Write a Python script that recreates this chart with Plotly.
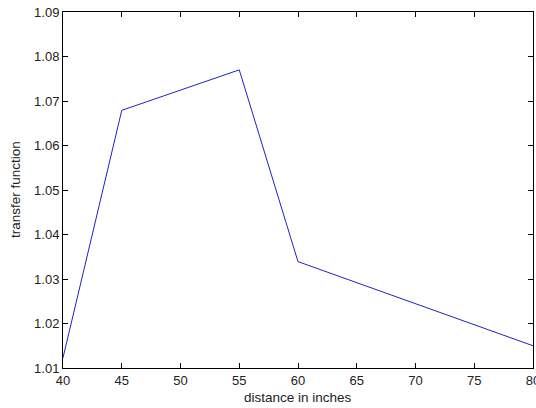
import plotly.graph_objects as go

distance = [40, 45, 55, 60, 80]
transfer = [1.0123, 1.0679, 1.0770, 1.0339, 1.0150]
x_ticks = [40, 45, 50, 55, 60, 65, 70, 75, 80]
y_ticks = [1.01, 1.02, 1.03, 1.04, 1.05, 1.06, 1.07, 1.08, 1.09]
x_title = "distance in inches"
y_title = "transfer function"

FONT = "Liberation Sans, Arial"

fig = go.Figure()
fig.add_trace(go.Scatter(x=distance, y=transfer, mode="lines",
                         line=dict(color="#2020c8", width=1)))

axis_common = dict(showgrid=False, zeroline=False, showline=True, linecolor="black",
                   linewidth=1, mirror="ticks", ticks="inside", ticklen=5, automargin=False,
                   tickcolor="black", tickfont=dict(family=FONT, size=13, color="#222"))

fig.update_layout(
    width=536, height=408,
    margin=dict(l=63, r=3, t=12, b=40),
    paper_bgcolor="white", plot_bgcolor="white",
    showlegend=False,
    xaxis=dict(range=[40, 80], tickvals=x_ticks, ticktext=[str(v) for v in x_ticks],
               ticklabeloverflow="allow", **axis_common),
    yaxis=dict(range=[1.01, 1.09], tickvals=y_ticks, ticktext=[f"{v:.2f}" for v in y_ticks],
               **axis_common),
    annotations=[
        dict(text=x_title, xref="paper", yref="paper", x=0.5, y=0, xanchor="center",
             yanchor="middle", yshift=-29, showarrow=False,
             font=dict(family=FONT, size=13.5, color="#222")),
        dict(text=y_title, xref="paper", yref="paper", x=0, y=0.5, xanchor="center",
             yanchor="middle", xshift=-48, textangle=-90, showarrow=False,
             font=dict(family=FONT, size=13.5, color="#222")),
    ],
)

fig.write_html("out.html", config={"displayModeBar": False},
               post_script="document.body.style.margin='0';document.body.style.overflow='hidden';")
